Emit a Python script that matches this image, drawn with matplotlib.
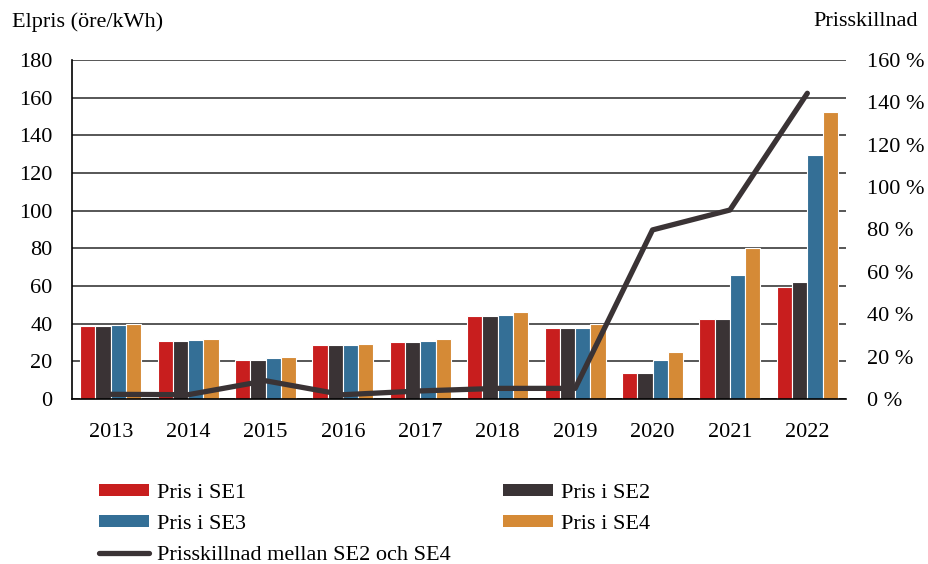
import numpy as np
import matplotlib.pyplot as plt
from matplotlib.patches import Patch
from matplotlib.lines import Line2D
from matplotlib.ticker import FuncFormatter

plt.rcParams['font.family'] = ['Liberation Serif', 'DejaVu Serif']

# Data
years = ["2013", "2014", "2015", "2016", "2017", "2018", "2019", "2020", "2021", "2022"]
se1 = [38.8, 31.0, 20.7, 28.7, 30.4, 44.1, 37.5, 14.0, 42.3, 59.3]
se2 = [38.8, 31.0, 20.7, 28.7, 30.4, 44.1, 37.5, 14.0, 42.3, 62.1]
se3 = [39.3, 31.3, 21.6, 28.7, 30.8, 44.4, 37.9, 20.7, 65.9, 129.4]
se4 = [39.8, 31.7, 22.5, 29.3, 31.7, 46.2, 39.7, 25.1, 80.4, 152.4]
skillnad = [2.2, 2.0, 8.6, 2.0, 3.8, 5.0, 5.0, 79.8, 89.2, 144.3]

c1, c2, c3, c4 = "#c81e1e", "#3a3335", "#346f96", "#d58a36"
fs = 16

fig = plt.figure(figsize=(9.29, 5.64), dpi=100)
ax = fig.add_axes([0.0775, 0.2926, 0.8332, 0.601])
ax2 = ax.twinx()

x = np.arange(len(years))
w = 0.197
for i, (vals, col) in enumerate([(se1, c1), (se2, c2), (se3, c3), (se4, c4)]):
    ax.bar(x + (i - 1.5) * w, vals, width=w, color=col, edgecolor="white",
           linewidth=0.8, zorder=3)

ax.set_ylim(0, 180)
ax.set_yticks(range(0, 181, 20))
ax.set_xlim(-0.5, 9.5)
ax.set_xticks(x)
ax.set_xticklabels(years)
ax.grid(axis="y", color="#3a3a3a", linewidth=1.2, zorder=0)
ax.set_axisbelow(True)
for s in ["top", "right"]:
    ax.spines[s].set_visible(False)
ax.spines["left"].set_linewidth(1.2)
ax.spines["bottom"].set_linewidth(1.2)
ax.spines["left"].set_zorder(5)
ax.spines["bottom"].set_zorder(5)
ax.tick_params(axis="both", length=0, labelsize=fs, colors="black")
ax.tick_params(axis="y", pad=14)
ax.tick_params(axis="x", pad=17)

ax2.plot(x, skillnad, color=c2, linewidth=3.8, solid_capstyle="round", zorder=4)
ax2.set_ylim(0, 160)
ax2.set_yticks(range(0, 161, 20))
ax2.yaxis.set_major_formatter(FuncFormatter(lambda v, p: "%d %%" % v))
ax2.tick_params(axis="y", length=0, labelsize=fs, pad=15)
for s in ["top", "right", "left", "bottom"]:
    ax2.spines[s].set_visible(False)

fig.text(12 / 929, 1 - 22 / 564, "Elpris (öre/kWh)", fontsize=fs, va="center", ha="left")
fig.text(918 / 929, 1 - 22 / 564, "Prisskillnad", fontsize=fs, va="center", ha="right")

handles = [
    Patch(facecolor=c1, label="Pris i SE1"),
    Patch(facecolor=c3, label="Pris i SE3"),
    Line2D([0], [0], color=c2, linewidth=3.8, solid_capstyle="round",
           label="Prisskillnad mellan SE2 och SE4"),
    Patch(facecolor=c2, label="Pris i SE2"),
    Patch(facecolor=c4, label="Pris i SE4"),
]
fig.legend(handles=handles, ncol=2, loc="upper left", bbox_to_anchor=(88 / 929, 1 - 473 / 564),
           frameon=False, fontsize=fs, handlelength=2.25, handleheight=0.45,
           handletextpad=0.36, columnspacing=2.35, labelspacing=0.53, borderpad=0)

fig.savefig("out.png", dpi=100)
